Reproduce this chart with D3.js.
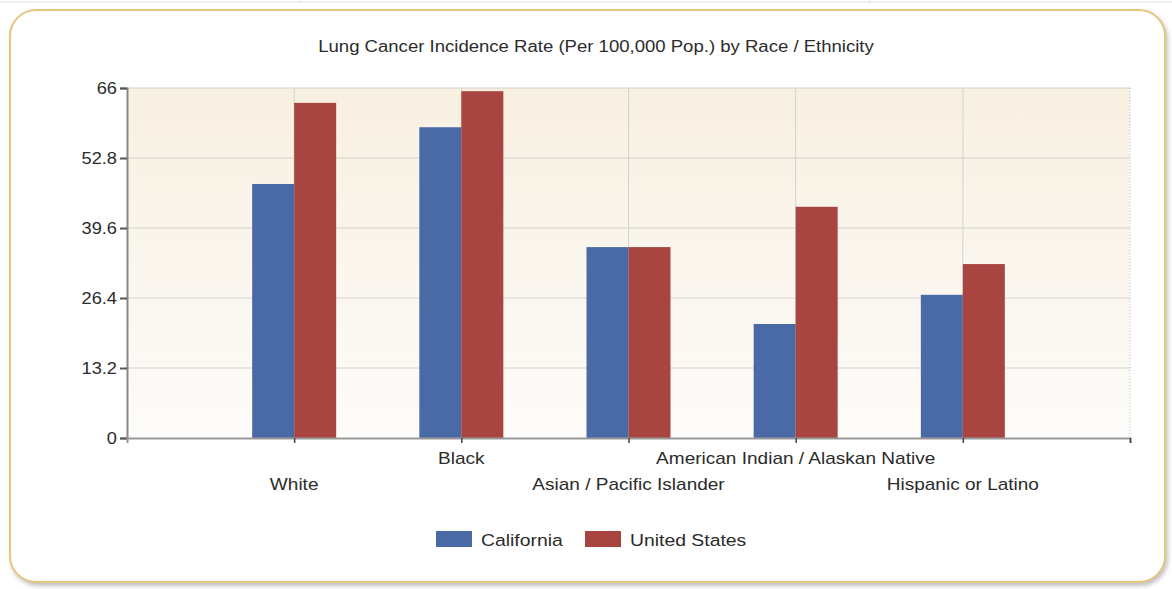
<!DOCTYPE html>
<html>
<head>
<meta charset="utf-8">
<script src="https://cdn.jsdelivr.net/npm/d3@7"></script>
<style>
  body { margin: 0; background: #fff; }
  svg { display: block; font-family: "Liberation Sans", Arial, sans-serif; }
</style>
</head>
<body>
<svg id="chart" width="1172" height="589"></svg>
<script>
// chart data
const categories = ["White", "Black", "Asian / Pacific Islander", "American Indian / Alaskan Native", "Hispanic or Latino"];
const california = [47.9, 58.6, 36.0, 21.5, 27.0];
const unitedStates = [63.2, 65.4, 36.0, 43.6, 32.8];
const seriesNames = ["California", "United States"];
const yTicks = [0, 13.2, 26.4, 39.6, 52.8, 66];

const colors = ["#4a6aa6", "#a84541"];
const textColor = "#2b2b2b";
const svg = d3.select("#chart");

// the original text is a bit wider than Liberation Sans, stretch it
function stretchedText(sel, x, y, str, size, sx, anchor) {
  return sel.append("text")
    .attr("transform", `translate(${x},${y}) scale(${sx},1)`)
    .attr("text-anchor", anchor || "start")
    .attr("font-size", size).attr("fill", textColor)
    .text(str);
}

// frame
const defs = svg.append("defs");
const shadow = defs.append("filter").attr("id", "sh").attr("x", "-5%").attr("y", "-5%").attr("width", "110%").attr("height", "110%");
shadow.append("feDropShadow").attr("dx", 2).attr("dy", 3).attr("stdDeviation", 2).attr("flood-color", "#999").attr("flood-opacity", 0.6);

const bg = defs.append("linearGradient").attr("id", "bg").attr("x1", 0).attr("y1", 0).attr("x2", 0).attr("y2", 1);
bg.append("stop").attr("offset", "0%").attr("stop-color", "#f8f0e1");
bg.append("stop").attr("offset", "100%").attr("stop-color", "#fdfcfa");

// faint table lines at the top of the screenshot
svg.append("line").attr("x1", 0).attr("x2", 1172).attr("y1", 2).attr("y2", 2).attr("stroke", "#e2e2e2");
[300, 870].forEach(x => svg.append("line").attr("x1", x).attr("x2", x).attr("y1", 0).attr("y2", 3).attr("stroke", "#ddd"));

svg.append("rect")
  .attr("x", 10).attr("y", 10).attr("width", 1155).attr("height", 572)
  .attr("rx", 26).attr("ry", 26)
  .attr("fill", "#fff").attr("stroke", "#e3c77e").attr("stroke-width", 2)
  .attr("filter", "url(#sh)");

stretchedText(svg, 596, 52, "Lung Cancer Incidence Rate (Per 100,000 Pop.) by Race / Ethnicity", 16, 1.16, "middle");

const margin = { left: 127, right: 1130, top: 88, bottom: 438 };

const x = d3.scaleLinear().domain([0, categories.length + 1]).range([margin.left, margin.right]);
const y = d3.scaleLinear().domain([0, 66]).range([margin.bottom, margin.top]);

const g = svg.append("g");

g.append("rect")
  .attr("x", margin.left).attr("y", margin.top)
  .attr("width", margin.right - margin.left).attr("height", margin.bottom - margin.top)
  .attr("fill", "url(#bg)");

// horizontal grid
g.selectAll(".hgrid").data(yTicks.slice(1)).join("line")
  .attr("x1", margin.left).attr("x2", margin.right)
  .attr("y1", d => y(d)).attr("y2", d => y(d))
  .attr("stroke", "#d4d2cc");

// vertical grid
const xPos = d3.range(1, categories.length + 1);
g.selectAll(".vgrid").data(xPos).join("line")
  .attr("x1", d => x(d)).attr("x2", d => x(d))
  .attr("y1", margin.top).attr("y2", margin.bottom)
  .attr("stroke", "#d4d2cc");

g.append("line")
  .attr("x1", margin.right).attr("x2", margin.right)
  .attr("y1", margin.top).attr("y2", margin.bottom)
  .attr("stroke", "#bbb").attr("stroke-dasharray", "1,2");

// bars
const barW = 42;
const series = [california, unitedStates];
series.forEach((vals, si) => {
  g.selectAll(".bar" + si).data(vals).join("rect")
    .attr("x", (d, i) => x(i + 1) - barW + si * barW)
    .attr("y", d => y(d))
    .attr("width", barW)
    .attr("height", d => y(0) - y(d))
    .attr("fill", colors[si]);
});

// y axis
const yAxis = g.append("g")
  .attr("transform", `translate(${margin.left},0)`)
  .call(d3.axisLeft(y).tickValues(yTicks).tickFormat("").tickSize(7));
yAxis.select(".domain").attr("stroke", "#888").attr("stroke-width", 2);
yAxis.selectAll(".tick line").attr("stroke", "#555").attr("stroke-width", 2);
yTicks.forEach(t => stretchedText(g, margin.left - 10, y(t) + 6, String(t), 16, 1.14, "end"));

// x axis
const xAxis = g.append("g")
  .attr("transform", `translate(0,${margin.bottom})`)
  .call(d3.axisBottom(x).tickValues(xPos.concat([categories.length + 1])).tickFormat("").tickSize(5));
xAxis.select(".domain").attr("stroke", "#999").attr("stroke-width", 2);
xAxis.selectAll(".tick line").attr("stroke", "#444").attr("stroke-width", 1.5);

// staggered category labels
categories.forEach((c, i) => {
  stretchedText(g, x(i + 1), i % 2 === 0 ? 490 : 464, c, 17, 1.12, "middle");
});

// legend
const legend = svg.append("g");
const legendX = [436, 585];
seriesNames.forEach((name, i) => {
  legend.append("rect")
    .attr("x", legendX[i]).attr("y", 531)
    .attr("width", 36).attr("height", 16)
    .attr("fill", colors[i]);
  stretchedText(legend, legendX[i] + 45, 546, name, 17, 1.14);
});
</script>
</body>
</html>
